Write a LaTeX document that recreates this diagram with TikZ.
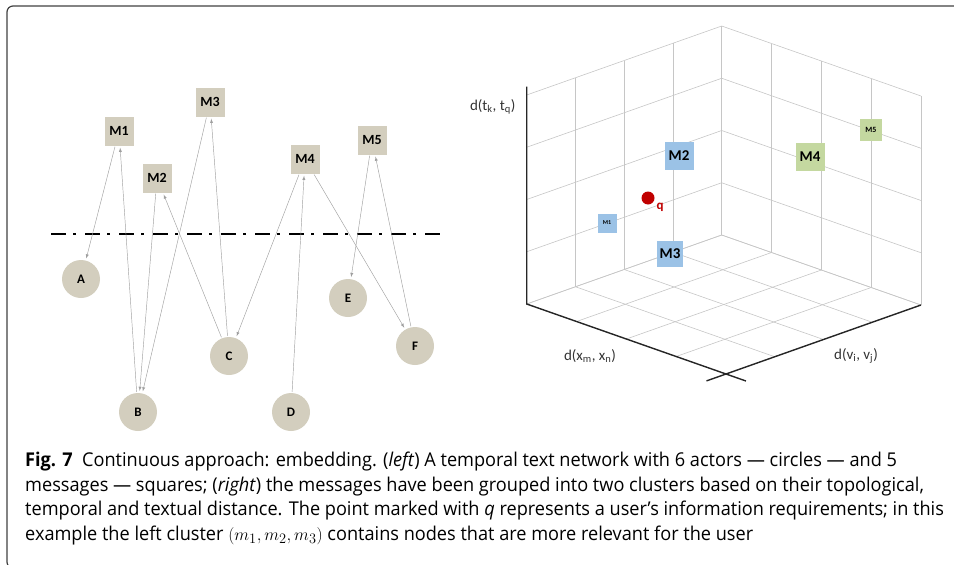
\documentclass[tikz,border=0pt]{standalone}
\usepackage{fontspec}
\setmainfont{Carlito}
\newfontfamily\capfont{Open Sans}[FakeStretch=0.955]
\definecolor{actorfill}{RGB}{211,206,190}
\definecolor{clusterblue}{RGB}{155,194,230}
\definecolor{clustergreen}{RGB}{196,216,160}
\definecolor{qred}{RGB}{192,0,0}
\begin{document}
\begin{tikzpicture}[x=1pt,y=-1pt,
    msg/.style={rectangle,fill=actorfill,minimum size=29pt,inner sep=0pt,
      font=\bfseries\fontsize{14}{14}\selectfont},
    actor/.style={circle,fill=actorfill,minimum size=38pt,inner sep=0pt,
      font=\bfseries\fontsize{13}{13}\selectfont},
    link/.style={-latex,draw=gray!75,line width=0.45pt,shorten >=2pt,shorten <=1pt},
    gridline/.style={draw=gray!45,line width=0.6pt},
    axisline/.style={draw=black!85,line width=1.4pt},
    blue/.style={rectangle,fill=clusterblue,inner sep=0pt,font=\bfseries},
    green/.style={rectangle,fill=clustergreen,inner sep=0pt,font=\bfseries},
    axislabel/.style={font=\fontsize{15}{15}\selectfont,text=black!80}]

  \useasboundingbox (0,0) rectangle (954,565);
  \draw[draw=black!75,line width=1.2pt,rounded corners=6pt] (7,6) rectangle (980,568);

  % left: messages and actors
  \node[msg] (M1) at (119,131) {M1};
  \node[msg] (M2) at (157,178) {M2};
  \node[msg] (M3) at (210,102) {M3};
  \node[msg] (M4) at (305,159) {M4};
  \node[msg] (M5) at (372,140) {M5};

  \node[actor] (A) at (81,279) {A};
  \node[actor] (B) at (138,412) {B};
  \node[actor] (C) at (229,356) {C};
  \node[actor] (D) at (291,412) {D};
  \node[actor] (E) at (348,298) {E};
  \node[actor] (F) at (415,346) {F};

  \draw[line width=2.6pt,dash pattern=on 15pt off 7pt on 3pt off 9pt] (51,234) -- (445,234);

  \draw[link] (M1) -- (A);
  \draw[link] (B) -- (M1);
  \draw[link] (M2) -- (B);
  \draw[link] (C) -- (M2);
  \draw[link] (M3) -- (B);
  \draw[link] (C) -- (M3);
  \draw[link] (M4) -- (C);
  \draw[link] (D) -- (M4);
  \draw[link] (M4) -- (F);
  \draw[link] (M5) -- (E);
  \draw[link] (F) -- (M5);

  % right: embedding space
  \begin{scope}[shift={(721.7,235)},x={(-195pt,-69pt)},y={(199.3pt,-70pt)},z={(0pt,209pt)}]
    \foreach \t in {0,0.25,...,1} {
      \draw[gridline] (\t,0,0) -- (\t,0,1);
      \draw[gridline] (0,0,\t) -- (1,0,\t);
      \draw[gridline] (0,\t,0) -- (0,\t,1);
      \draw[gridline] (0,0,\t) -- (0,1,\t);
      \draw[gridline] (\t,0,0) -- (\t,1,0);
      \draw[gridline] (0,\t,0) -- (1,\t,0);
    }
    \draw[axisline] (1,0,1.04) -- (1,0,0) -- (1,1.1,0);
    \draw[axisline] (0,1,0) -- (1.1,1,0);
  \end{scope}

  \node[axislabel,anchor=east] (tlabel) at (519,107) {d(t\textsubscript{k}, t\textsubscript{q})};
  \node[axislabel] (xlabel) at (590,356) {d(x\textsubscript{m}, x\textsubscript{n})};
  \node[axislabel] (vlabel) at (856,356) {d(v\textsubscript{i}, v\textsubscript{j})};

  \node[blue,minimum size=19pt,font=\bfseries\fontsize{6}{6}\selectfont] (e1) at (607,223) {M1};
  \node[blue,minimum width=29pt,minimum height=28pt,font=\bfseries\fontsize{15}{15}\selectfont] (e2) at (679,156) {M2};
  \node[blue,minimum size=26pt,font=\bfseries\fontsize{15}{15}\selectfont] (e3) at (670,254) {M3};
  \node[green,minimum width=29pt,minimum height=28pt,font=\bfseries\fontsize{15}{15}\selectfont] (e4) at (810,157) {M4};
  \node[green,minimum size=22pt,font=\bfseries\fontsize{8}{8}\selectfont] (e5) at (871,130) {M5};

  \node[circle,fill=qred,minimum size=13pt,inner sep=0pt] (q) at (648,198) {};
  \node[text=qred,font=\bfseries\fontsize{13}{13}\selectfont] (qlabel) at (660,207) {q};

  % caption
  \node[anchor=north west,align=left,inner sep=0pt,
    font=\capfont\fontsize{19}{24.5}\selectfont] (caption) at (25,452)
    {\textbf{Fig. 7}\ \ Continuous approach: embedding. (\textit{left}) A temporal text network with 6 actors — circles — and 5\\
     messages — squares; (\textit{right}) the messages have been grouped into two clusters based on their topological,\\
     temporal and textual distance. The point marked with \textit{q} represents a user’s information requirements; in this\\
     example the left cluster $(m_1, m_2, m_3)$ contains nodes that are more relevant for the user};
\end{tikzpicture}
\end{document}
